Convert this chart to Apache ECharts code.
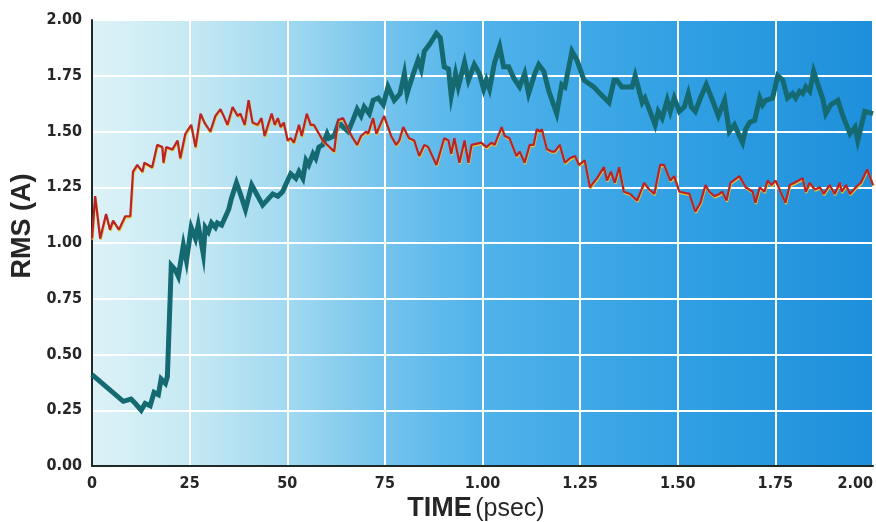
<!DOCTYPE html>
<html>
<head>
<meta charset="utf-8">
<script src="https://cdn.jsdelivr.net/npm/echarts@6/dist/echarts.min.js"></script>
<style>html,body{margin:0;padding:0;background:#fff;}#c{width:876px;height:522px;}</style>
</head>
<body>
<div id="c"></div>
<script>
var xTicks = [0, 0.25, 0.5, 0.75, 1.0, 1.25, 1.5, 1.75, 2.0];
var yTicks = [0, 0.25, 0.5, 0.75, 1.0, 1.25, 1.5, 1.75, 2.0];

var redTime = [0.000,0.008,0.021,0.036,0.046,0.054,0.069,0.085,0.098,0.105,0.116,0.129,0.134,0.154,0.167,0.180,0.183,0.190,0.206,0.219,0.226,0.239,0.254,0.265,0.278,0.288,0.303,0.316,0.329,0.337,0.347,0.360,0.373,0.380,0.391,0.401,0.411,0.424,0.434,0.442,0.460,0.468,0.476,0.483,0.491,0.501,0.509,0.517,0.530,0.537,0.550,0.560,0.568,0.591,0.620,0.630,0.643,0.656,0.668,0.679,0.689,0.702,0.707,0.720,0.728,0.748,0.756,0.766,0.779,0.787,0.797,0.812,0.825,0.838,0.851,0.861,0.882,0.902,0.913,0.920,0.928,0.941,0.954,0.964,0.972,0.997,1.010,1.023,1.031,1.049,1.057,1.069,1.087,1.095,1.108,1.121,1.131,1.139,1.147,1.152,1.165,1.177,1.185,1.198,1.211,1.224,1.237,1.247,1.262,1.275,1.293,1.311,1.319,1.329,1.339,1.350,1.362,1.378,1.396,1.414,1.427,1.440,1.455,1.465,1.481,1.491,1.504,1.530,1.545,1.558,1.571,1.581,1.594,1.607,1.614,1.625,1.635,1.658,1.674,1.692,1.699,1.710,1.722,1.730,1.740,1.751,1.763,1.776,1.787,1.799,1.820,1.828,1.838,1.851,1.864,1.874,1.889,1.902,1.915,1.920,1.931,1.941,1.956,1.969,1.985,2.000];
var redRms = [1.02,1.21,1.02,1.13,1.06,1.10,1.06,1.12,1.12,1.32,1.35,1.32,1.36,1.34,1.44,1.43,1.36,1.43,1.42,1.46,1.38,1.49,1.53,1.43,1.58,1.54,1.50,1.57,1.60,1.57,1.53,1.61,1.57,1.58,1.53,1.64,1.54,1.53,1.56,1.48,1.58,1.53,1.56,1.52,1.54,1.46,1.47,1.45,1.53,1.48,1.58,1.53,1.53,1.46,1.41,1.55,1.56,1.51,1.47,1.44,1.48,1.50,1.49,1.56,1.49,1.57,1.53,1.48,1.44,1.46,1.52,1.47,1.46,1.39,1.44,1.43,1.35,1.47,1.46,1.40,1.47,1.36,1.46,1.36,1.44,1.45,1.43,1.45,1.44,1.52,1.48,1.47,1.39,1.41,1.36,1.44,1.44,1.51,1.50,1.51,1.42,1.41,1.41,1.44,1.36,1.38,1.39,1.35,1.37,1.25,1.29,1.34,1.28,1.32,1.27,1.34,1.23,1.22,1.19,1.27,1.24,1.22,1.35,1.35,1.28,1.30,1.23,1.22,1.14,1.18,1.26,1.23,1.21,1.22,1.23,1.19,1.27,1.30,1.25,1.23,1.18,1.25,1.23,1.28,1.26,1.28,1.23,1.18,1.26,1.27,1.29,1.23,1.27,1.24,1.25,1.22,1.26,1.22,1.27,1.23,1.26,1.22,1.25,1.27,1.33,1.26];

var tealTime = [0.000,0.080,0.100,0.111,0.126,0.136,0.149,0.159,0.170,0.177,0.188,0.193,0.203,0.213,0.221,0.234,0.242,0.254,0.265,0.272,0.285,0.290,0.298,0.306,0.316,0.321,0.332,0.350,0.357,0.370,0.380,0.393,0.409,0.437,0.463,0.476,0.488,0.501,0.509,0.522,0.530,0.540,0.548,0.555,0.566,0.573,0.581,0.591,0.602,0.607,0.620,0.632,0.643,0.656,0.668,0.679,0.689,0.697,0.710,0.720,0.733,0.746,0.758,0.774,0.789,0.800,0.807,0.812,0.823,0.835,0.843,0.851,0.864,0.882,0.892,0.902,0.913,0.920,0.931,0.938,0.954,0.964,0.979,0.992,1.003,1.010,1.018,1.031,1.044,1.054,1.067,1.080,1.095,1.108,1.118,1.134,1.144,1.157,1.170,1.190,1.203,1.211,1.229,1.242,1.260,1.285,1.301,1.324,1.337,1.344,1.357,1.370,1.383,1.391,1.409,1.416,1.429,1.442,1.450,1.460,1.473,1.481,1.491,1.504,1.517,1.527,1.535,1.545,1.558,1.573,1.589,1.604,1.620,1.632,1.645,1.658,1.666,1.674,1.684,1.697,1.710,1.717,1.725,1.743,1.756,1.769,1.781,1.794,1.802,1.812,1.820,1.828,1.838,1.848,1.859,1.871,1.879,1.892,1.910,1.923,1.941,1.954,1.961,1.979,2.000];
var tealRms = [0.41,0.29,0.30,0.28,0.25,0.28,0.27,0.33,0.32,0.39,0.37,0.40,0.90,0.88,0.85,0.99,0.92,1.07,1.02,1.08,0.95,1.07,1.05,1.09,1.07,1.09,1.08,1.15,1.20,1.27,1.22,1.15,1.26,1.17,1.22,1.21,1.23,1.28,1.31,1.29,1.32,1.29,1.37,1.35,1.40,1.38,1.43,1.44,1.49,1.47,1.48,1.54,1.52,1.50,1.55,1.60,1.57,1.61,1.58,1.64,1.65,1.62,1.70,1.64,1.67,1.76,1.67,1.70,1.76,1.82,1.78,1.86,1.89,1.94,1.92,1.79,1.78,1.66,1.76,1.70,1.81,1.73,1.80,1.76,1.69,1.73,1.69,1.81,1.88,1.79,1.79,1.74,1.70,1.76,1.67,1.76,1.80,1.77,1.68,1.58,1.71,1.70,1.86,1.82,1.73,1.70,1.67,1.63,1.73,1.73,1.70,1.70,1.70,1.75,1.63,1.65,1.59,1.53,1.59,1.56,1.64,1.59,1.65,1.59,1.61,1.67,1.61,1.59,1.65,1.71,1.64,1.57,1.64,1.50,1.53,1.48,1.45,1.51,1.54,1.55,1.65,1.62,1.64,1.65,1.75,1.73,1.65,1.67,1.65,1.68,1.67,1.70,1.68,1.77,1.71,1.65,1.58,1.62,1.64,1.57,1.49,1.52,1.46,1.59,1.58];

function pairs(t, v) { return t.map(function (x, i) { return [x, v[i]]; }); }

var chart = echarts.init(document.getElementById('c'), null, { renderer: 'canvas' });
var labelFont = '"Liberation Sans Narrow", "DejaVu Sans Condensed", "Liberation Sans", sans-serif';
var titleFont = '"Liberation Sans", Arial, sans-serif';

chart.setOption({
  animation: false,
  grid: {
    left: 92, right: 3, top: 20, bottom: 56,
    show: true, borderWidth: 0,
    backgroundColor: {
      type: 'linear', x: 0, y: 0, x2: 1, y2: 0,
      colorStops: [
        { offset: 0, color: '#dcf2f7' },
        { offset: 0.125, color: '#c6e9f3' },
        { offset: 0.25, color: '#a2d9f0' },
        { offset: 0.38, color: '#72c3ed' },
        { offset: 0.5, color: '#50b2ea' },
        { offset: 0.75, color: '#31a0e3' },
        { offset: 1, color: '#1e8fdb' }
      ]
    }
  },
  xAxis: {
    type: 'value', min: xTicks[0], max: xTicks[xTicks.length - 1], interval: 0.25,
    axisLine: { show: true, onZero: false, lineStyle: { color: '#1e2a2a', width: 2 } },
    axisTick: { show: false },
    splitLine: { show: true, lineStyle: { color: '#ffffff', width: 2 } },
    axisLabel: {
      margin: 10, color: '#262626', fontFamily: labelFont, fontWeight: 'bold', fontSize: 16,
      alignMaxLabel: 'right',
      formatter: function (v) { return v < 1 ? String(Math.round(v * 100)) : v.toFixed(2); }
    }
  },
  yAxis: {
    type: 'value', min: yTicks[0], max: yTicks[yTicks.length - 1], interval: 0.25,
    axisLine: { show: true, onZero: false, lineStyle: { color: '#1e2a2a', width: 2 } },
    axisTick: { show: false },
    splitLine: { show: true, lineStyle: { color: '#ffffff', width: 2 } },
    axisLabel: {
      margin: 10, color: '#262626', fontFamily: labelFont, fontWeight: 'bold', fontSize: 16,
      formatter: function (v) { return v.toFixed(2); }
    }
  },
  graphic: [
    {
      type: 'text', x: 23, y: 226, rotation: Math.PI / 2,
      style: { text: 'RMS (A)', align: 'center', verticalAlign: 'middle',
        fill: '#262626', font: 'bold 27px ' + titleFont }
    },
    {
      type: 'text', x: 476, y: 509,
      style: {
        text: '{b|TIME} {n|(psec)}', align: 'center', verticalAlign: 'middle',
        rich: {
          b: { fontFamily: titleFont, fontWeight: 'bold', fontSize: 27, fill: '#262626', color: '#262626' },
          n: { fontFamily: titleFont, fontWeight: 'normal', fontSize: 25, fill: '#262626', color: '#262626' }
        }
      }
    }
  ],
  series: [
    {
      type: 'line', name: 'teal', data: pairs(tealTime, tealRms), showSymbol: false, symbol: 'none',
      z: 3,
      lineStyle: { color: '#156a72', width: 5, join: 'miter' }
    },
    {
      type: 'line', name: 'red', data: pairs(redTime, redRms), showSymbol: false, symbol: 'none',
      z: 4,
      lineStyle: { color: '#bb2228', width: 2.2, shadowColor: '#e2c83a', shadowOffsetY: 1.2, shadowOffsetX: 0.5, shadowBlur: 0 }
    }
  ]
});
</script>
</body>
</html>
